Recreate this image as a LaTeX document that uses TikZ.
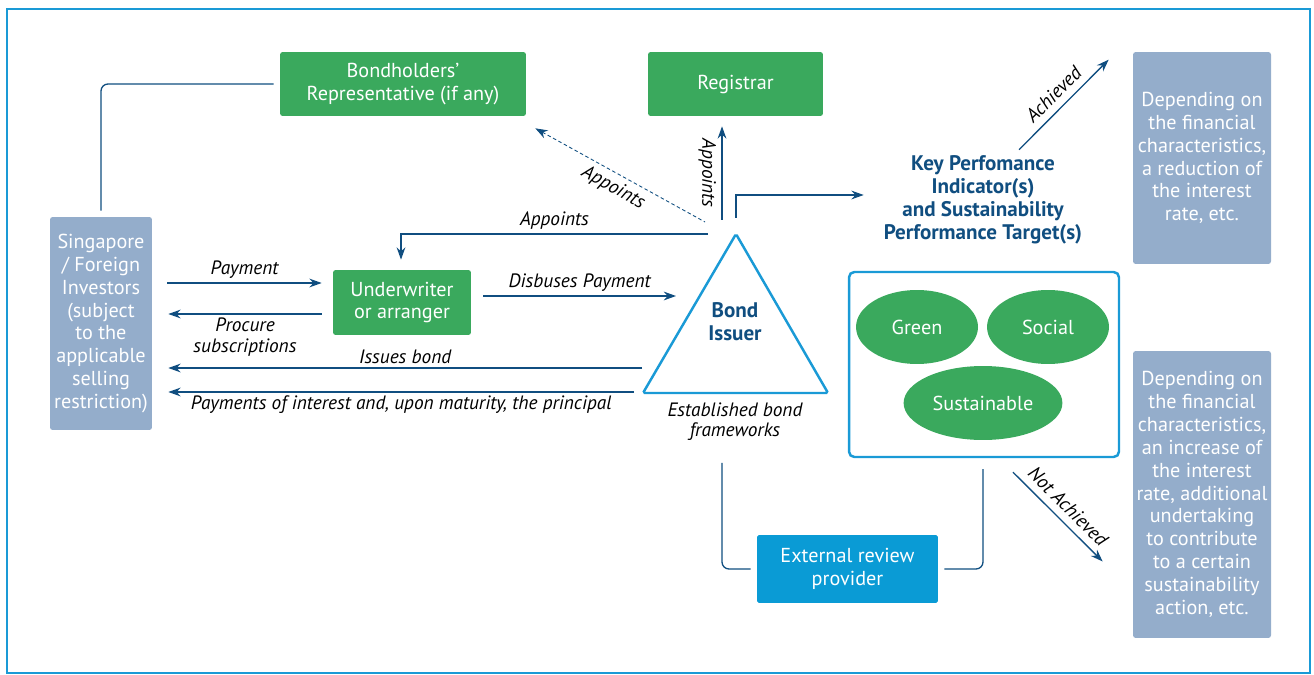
\documentclass[tikz,border=0pt]{standalone}
\usepackage{fontspec}
\setmainfont{PT Sans}
\usetikzlibrary{shapes.geometric,arrows.meta,calc}

\definecolor{bondgreen}{HTML}{3AA95D}
\definecolor{slate}{HTML}{94ADCB}
\definecolor{navy}{HTML}{104E80}
\definecolor{sky}{HTML}{1A9AD6}
\definecolor{reviewblue}{HTML}{0A9BD5}

\begin{document}
\begin{tikzpicture}[x=0.02cm,y=-0.02cm,
    box/.style={rectangle,rounded corners=1.5pt,text=white,align=center,inner sep=2pt,font=\boxfont},
    greenbox/.style={box,fill=bondgreen},
    slatebox/.style={box,fill=slate},
    oval/.style={ellipse,fill=bondgreen,text=white,font=\boxfont,minimum width=2.44cm,minimum height=1.48cm},
    heading/.style={font=\headfont,text=navy,align=center},
    link/.style={draw=navy,line width=0.75pt},
    arrow/.style={link,-{Stealth[length=7pt,width=5pt]}},
    lbl/.style={font=\labelfont,text=black,inner sep=2pt}]
    \providecommand{\boxfont}{\fontsize{11.5}{13}\selectfont}
    \providecommand{\headfont}{\fontsize{12}{13}\selectfont\bfseries}
    \providecommand{\labelfont}{\fontsize{11}{11.5}\selectfont\itshape}
    \useasboundingbox (0,0) rectangle (1314,675);
    \draw[sky,line width=0.8pt] (7,9) rectangle (1310,673);

    \node[greenbox,minimum width=4.92cm,minimum height=1.28cm] (bondrep) at (403,84) {Bondholders'\\Representative (if any)};
    \node[greenbox,minimum width=3.5cm,minimum height=1.28cm] (registrar) at (735.5,84) {Registrar};
    \node[slatebox,minimum width=2.04cm,minimum height=4.26cm] (investors) at (101,323.5) {Singapore\\/ Foreign\\Investors\\(subject\\to the\\applicable\\selling\\restriction)};
    \node[greenbox,minimum width=2.76cm,minimum height=1.3cm] (underwriter) at (402,302.5) {Underwriter\\or arranger};

    \coordinate (apex) at (736,234);
    \draw[sky,line width=1.4pt,rounded corners=1pt,fill=white] (643,393) -- (apex) -- (828,393) -- cycle;
    \node[heading] (issuer) at (735,322) {Bond\\Issuer};
    \node[lbl,align=center] (frameworks) at (735,422) {Established bond\\frameworks};

    \node[heading] (kpi) at (983,200) {Key Perfomance\\Indicator(s)\\and Sustainability\\Performance Target(s)};
    \node[draw=sky,line width=1.4pt,rounded corners=3pt,minimum width=5.4cm,minimum height=3.7cm] (labels) at (984,364.5) {};
    \node[oval] (green) at (917,327) {Green};
    \node[oval] (social) at (1048,327) {Social};
    \node[oval] (sustainable) at (983,403) {Sustainable};

    \node[slatebox,minimum width=2.76cm,minimum height=4.24cm] (achieved) at (1202,158) {Depending on\\the financial\\characteristics,\\a reduction of\\the interest\\rate, etc.};
    \node[slatebox,minimum width=2.76cm,minimum height=5.74cm] (notachieved) at (1202,494.5) {Depending on\\the financial\\characteristics,\\an increase of\\the interest\\rate, additional\\undertaking\\to contribute\\to a certain\\sustainability\\action, etc.};
    \node[box,fill=reviewblue,rounded corners=1pt,minimum width=3.62cm,minimum height=1.36cm] (review) at (847.5,569) {External review\\provider};

    \draw[link,rounded corners=4pt,shorten <=0.12cm,shorten >=0.12cm] (bondrep.west) -| (investors.north);
    \draw[arrow] ($(investors.east|-underwriter.west)+(15,-19.5)$) -- ($(underwriter.west)+(-11,-19.5)$) node[lbl,midway,above] {Payment};
    \draw[arrow] ($(underwriter.west)+(-11,11.5)$) -- ($(investors.east|-underwriter.west)+(16,11.5)$) node[lbl,midway,below,align=center] {Procure\\subscriptions};
    \draw[arrow] ($(underwriter.east)+(12,-6.5)$) -- ($(issuer)+(-59,-26)$) node[lbl,midway,above] {Disbuses Payment};
    \draw[arrow] ($(apex)+(-28,0)$) -| ($(underwriter.north)+(-1,-10)$) node[lbl,pos=0.25,above] {Appoints};
    \draw[arrow] ($(issuer)+(-93,46)$) -- ($(investors.east|-issuer)+(16,46)$) node[lbl,midway,above] {Issues bond};
    \draw[arrow] ($(issuer)+(-101,70)$) -- ($(investors.east|-issuer)+(16,70)$) node[lbl,midway,below] {Payments of interest and, upon maturity, the principal};
    \draw[link,line width=0.5pt,dash pattern=on 2pt off 1.5pt,{Stealth[length=7pt,width=5pt]}-] ($(bondrep.south east)+(9,12)$) -- ($(apex)+(-31,-12)$) node[lbl,midway,sloped,below,inner sep=3pt] {Appoints};
    \draw[arrow] ($(apex)+(-14,-14)$) -- ($(registrar.south)+(-13.5,10)$) node[lbl,midway,rotate=-90,anchor=north,inner sep=3pt] {Appoints};
    \draw[arrow] ($(apex)+(0,-16)$) |- ($(kpi.west)+(-14,-5)$);
    \draw[arrow] ($(kpi.north)+(36,0)$) -- ($(achieved.north west)+(-24,8)$) node[lbl,midway,sloped,above,inner sep=4pt] {Achieved};
    \draw[arrow] ($(labels.south)+(29,14)$) -- ($(notachieved.west)+(-30,67)$) node[lbl,midway,sloped,above,inner sep=4pt] {Not Achieved};
    \draw[link,rounded corners=4pt] ($(frameworks.south)+(-13,18)$) |- ($(review.west)+(-6,0)$);
    \draw[link,rounded corners=4pt] ($(labels.south)+(-1,11)$) |- ($(review.east)+(6,0)$);
\end{tikzpicture}
\end{document}
